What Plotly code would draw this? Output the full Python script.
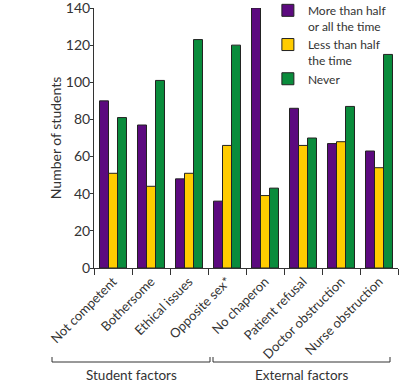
import plotly.graph_objects as go

categories = ["Not competent", "Bothersome", "Ethical issues", "Opposite sex*",
              "No chaperon", "Patient refusal", "Doctor obstruction", "Nurse obstruction"]
more_than_half = [90, 77, 48, 36, 140, 86, 67, 63]
less_than_half = [51, 44, 51, 66, 39, 66, 68, 54]
never = [81, 101, 123, 120, 43, 70, 87, 115]
series_names = ["More than half<br>or all the time", "Less than half<br>the time", "Never"]
colors = ["#5c0a7f", "#ffcc00", "#0a8c3c"]
group_labels = ["Student factors", "External factors"]

fig = go.Figure()
for name, vals, col in zip(series_names, [more_than_half, less_than_half, never], colors):
    fig.add_trace(go.Bar(x=categories, y=vals, name=name, marker=dict(color=col, line=dict(color="#222", width=1))))

font = "Lato, Open Sans, sans-serif"
fig.update_layout(
    width=400, height=383,
    margin=dict(l=94, r=2, t=8, b=115, autoexpand=False),
    barmode="group", bargap=0.29, bargroupgap=0,
    plot_bgcolor="white", paper_bgcolor="white",
    font=dict(family=font, size=13, color="#333"),
    legend=dict(x=0.572, y=1.046, xanchor="left", yanchor="top", font=dict(size=12, color="#333"),
                bgcolor="rgba(0,0,0,0)", tracegroupgap=0, itemwidth=30, valign="top"),
    xaxis=dict(showline=True, linecolor="#333", linewidth=1, ticks="outside", tickson="boundaries",
               ticklen=6, tickcolor="#333", tickangle=-45, tickfont=dict(size=13, color="#333"),
               range=[-0.5, 7.5], automargin=False),
    yaxis=dict(range=[0, 140], dtick=20, showline=True, linecolor="#333", linewidth=1, ticks="outside",
               ticklen=3, tickcolor="#333", showgrid=False, zeroline=False, automargin=True,
               ticklabelstandoff=-3, ticklabeloverflow="allow",
               tickfont=dict(size=14, color="#333"),
               title=dict(text="Number of students", font=dict(size=14, color="#333"), standoff=0)),
    showlegend=True,
)

def px_to_paper_x(px):
    return (px - 94) / 304

def px_to_paper_y(py):
    return (268 - py) / 260

brackets = [(52, 210), (213, 390)]
for (x0, x1), label in zip(brackets, group_labels):
    xa, xb = px_to_paper_x(x0), px_to_paper_x(x1)
    yl, yt = px_to_paper_y(362), px_to_paper_y(357)
    fig.add_shape(type="path", xref="paper", yref="paper",
                  path=f"M {xa} {yt} L {xa} {yl} L {xb} {yl} L {xb} {yt}",
                  line=dict(color="#333", width=1))
    fig.add_annotation(x=(xa + xb) / 2, y=px_to_paper_y(375), xref="paper", yref="paper",
                       text=label, showarrow=False, font=dict(size=13.5, color="#333"),
                       xanchor="center", yanchor="middle")

fig.write_html("out.html", config={"displayModeBar": False},
               post_script="document.body.style.margin='0';")
